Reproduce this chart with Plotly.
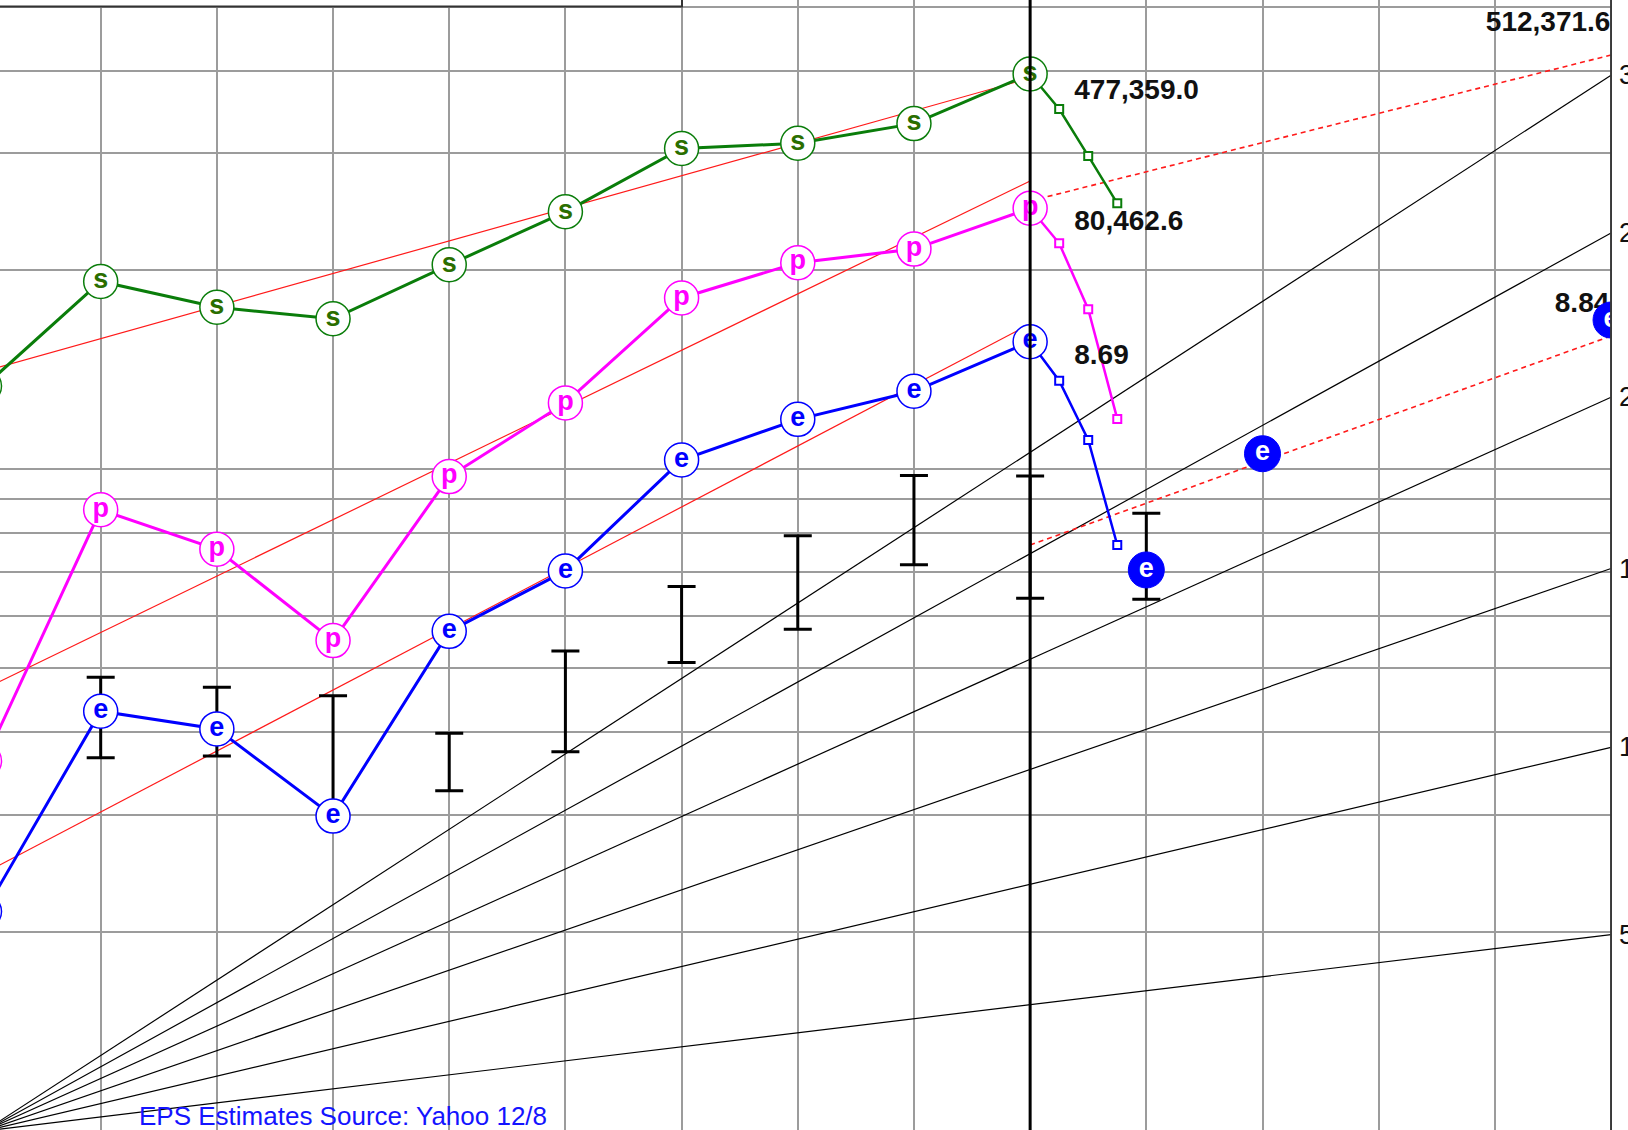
import math
import plotly.graph_objects as go

# ---------------- data (chart units on the log grid) ----------------
years = [0, 1, 2, 3, 4, 5, 6, 7, 8, 9]
sales = [13.35, 19.21, 17.56, 16.87, 20.36, 24.48, 30.51, 31.07, 33.27, 39.54]
pretax = [3.623, 8.680, 7.565, 5.507, 9.743, 12.59, 18.14, 20.51, 21.50, 24.78]
eps = [2.145, 4.307, 4.050, 2.990, 5.687, 7.017, 10.32, 11.89, 13.11, 15.58]

quarters = [9, 9.25, 9.5, 9.75]
sales_q = [39.54, 35.0, 29.73, 25.21]
pretax_q = [24.78, 21.94, 17.44, 11.91]
eps_q = [15.58, 13.60, 11.07, 7.679]

est_x = [10, 11, 14]
est_eps = [7.041, 10.55, 16.80]

bar_x = [1, 2, 3, 4, 5, 6, 7, 8, 9, 10]
bar_high = [4.847, 4.680, 4.546, 3.990, 5.311, 6.645, 7.929, 9.780, 9.763, 8.576]
bar_low = [3.664, 3.687, 3.001, 3.266, 3.742, 5.104, 5.729, 7.170, 6.380, 6.358]

trend_x = [0, 9]
sales_trend = [14.06, 38.98]
pretax_trend = [4.654, 27.25]
eps_trend = [2.453, 16.57]

proj_x = [9, 14]
proj_upper = [25.42, 42.24]
proj_lower = [7.679, 15.89]

growth_rates = [30, 25, 20, 15, 10, 5]
fan_x = [0, 14]

grid_vals = [2, 3, 4, 5, 6, 7, 8, 9, 10, 20, 30, 40, 50]

labels = {
    "sales_last": "477,359.0",
    "pretax_last": "80,462.6",
    "eps_last": "8.69",
    "sales_proj": "512,371.6",
    "eps_proj": "8.84",
}
label_y = {"sales_last": 37.19, "pretax_last": 23.52, "eps_last": 14.79,
           "sales_proj": 47.06, "eps_proj": 17.70}
source_text = "EPS Estimates Source: Yahoo 12/8"

# ---------------- styles ----------------
GREEN = "#0a7d0a"
MAGENTA = "#ff00ff"
BLUE = "#0000ff"
RED = "#ff1a1a"
GRID = "#9c9c9c"
FONT = "Liberation Sans, Arial, sans-serif"

X_RANGE = [0.1333, 14.0083]
Y_RANGE = [0.00139, 1.70885]
PLOT_W = 1612

fig = go.Figure()

# growth-rate fan lines
for r in growth_rates:
    fig.add_trace(go.Scatter(
        x=fan_x, y=[(1 + r / 100) ** x for x in fan_x], mode="lines",
        line=dict(color="#000000", width=1.2), hoverinfo="skip", showlegend=False))

# red trend lines
for tr in (sales_trend, pretax_trend, eps_trend):
    fig.add_trace(go.Scatter(
        x=trend_x, y=tr, mode="lines", line=dict(color=RED, width=1.2),
        hoverinfo="skip", showlegend=False))
for pr in (proj_upper, proj_lower):
    fig.add_trace(go.Scatter(
        x=proj_x, y=pr, mode="lines",
        line=dict(color=RED, width=1.6, dash="5px,4px"),
        hoverinfo="skip", showlegend=False))

# high/low bars
fig.add_trace(go.Scatter(
    x=bar_x, y=bar_low, mode="markers", marker=dict(size=1, opacity=0),
    error_y=dict(type="data", symmetric=False,
                 array=[h - l for h, l in zip(bar_high, bar_low)],
                 arrayminus=[0] * len(bar_low),
                 color="#000000", thickness=3, width=14),
    hoverinfo="skip", showlegend=False))

# quarterly projections
for qy, col in ((sales_q, GREEN), (pretax_q, MAGENTA), (eps_q, BLUE)):
    fig.add_trace(go.Scatter(
        x=quarters, y=qy, mode="lines+markers",
        line=dict(color=col, width=2.5),
        marker=dict(symbol="square", size=8, color="white",
                    line=dict(color=col, width=2)),
        hoverinfo="skip", showlegend=False))

# main series
for ys, col, letter, lcol in ((sales, GREEN, "s", "#2a6e00"),
                              (pretax, MAGENTA, "p", MAGENTA),
                              (eps, BLUE, "e", BLUE)):
    fig.add_trace(go.Scatter(
        x=years, y=ys, mode="lines+markers+text",
        line=dict(color=col, width=3),
        marker=dict(symbol="circle", size=34, color="white",
                    line=dict(color=col, width=1.5)),
        text=[letter] * len(ys), textposition="middle center",
        textfont=dict(family=FONT, size=27, color=lcol, weight="bold"),
        hoverinfo="skip", showlegend=False))

# value labels
fig.add_trace(go.Scatter(
    x=[9.38, 9.38, 9.38], y=[label_y["sales_last"], label_y["pretax_last"], label_y["eps_last"]],
    mode="text", text=[labels["sales_last"], labels["pretax_last"], labels["eps_last"]],
    textposition="middle right",
    textfont=dict(family=FONT, size=28, color="#111111", weight="bold"),
    hoverinfo="skip", showlegend=False))
fig.add_trace(go.Scatter(
    x=[13.995, 13.985], y=[label_y["sales_proj"], label_y["eps_proj"]],
    mode="text", text=[labels["sales_proj"], labels["eps_proj"]],
    textposition="middle left",
    textfont=dict(family=FONT, size=28, color="#111111", weight="bold"),
    hoverinfo="skip", showlegend=False))

# estimate markers (filled)
fig.add_trace(go.Scatter(
    x=est_x, y=est_eps, mode="markers+text",
    marker=dict(symbol="circle", size=36, color=BLUE, line=dict(color=BLUE, width=1)),
    text=["e"] * len(est_x), textposition="middle center",
    textfont=dict(family=FONT, size=27, color="white", weight="bold"),
    hoverinfo="skip", showlegend=False))

# growth-rate labels at right edge
annotations = []
for r in growth_rates:
    annotations.append(dict(
        x=14, y=math.log10((1 + r / 100) ** 14), xref="x", yref="y",
        text=f"{r}%", showarrow=False, xanchor="left", yanchor="middle",
        xshift=6, font=dict(family=FONT, size=27, color="#111111")))
annotations.append(dict(
    x=137 / PLOT_W, y=1 - 1116 / 1130, xref="paper", yref="paper",
    text=source_text, showarrow=False, xanchor="left", yanchor="middle",
    font=dict(family=FONT, size=26, color="#1414ff")))

shapes = [
    dict(type="line", xref="x", yref="paper", x0=9, x1=9, y0=0, y1=1,
         line=dict(color="#000000", width=3), layer="above"),
    dict(type="line", xref="x", yref="paper", x0=14, x1=14, y0=0, y1=1,
         line=dict(color="#3a3a3a", width=2), layer="above"),
    dict(type="rect", xref="paper", yref="paper", x0=-0.01, x1=682 / PLOT_W,
         y0=1 - 6.5 / 1130, y1=1.02, fillcolor="white",
         line=dict(color="#333333", width=2), layer="above"),
]

fig.update_layout(
    width=1628, height=1130,
    margin=dict(l=0, r=16, t=0, b=0),
    plot_bgcolor="white", paper_bgcolor="white",
    showlegend=False,
    annotations=annotations,
    shapes=shapes,
    xaxis=dict(range=X_RANGE, tickvals=list(range(1, 14)), showticklabels=False,
               showgrid=True, gridcolor=GRID, gridwidth=2, zeroline=False,
               ticks="", showline=False),
    yaxis=dict(type="log", range=Y_RANGE, tickvals=grid_vals, showticklabels=False,
               showgrid=True, gridcolor=GRID, gridwidth=2, zeroline=False,
               ticks="", showline=False),
)

fig.write_html("out.html")
